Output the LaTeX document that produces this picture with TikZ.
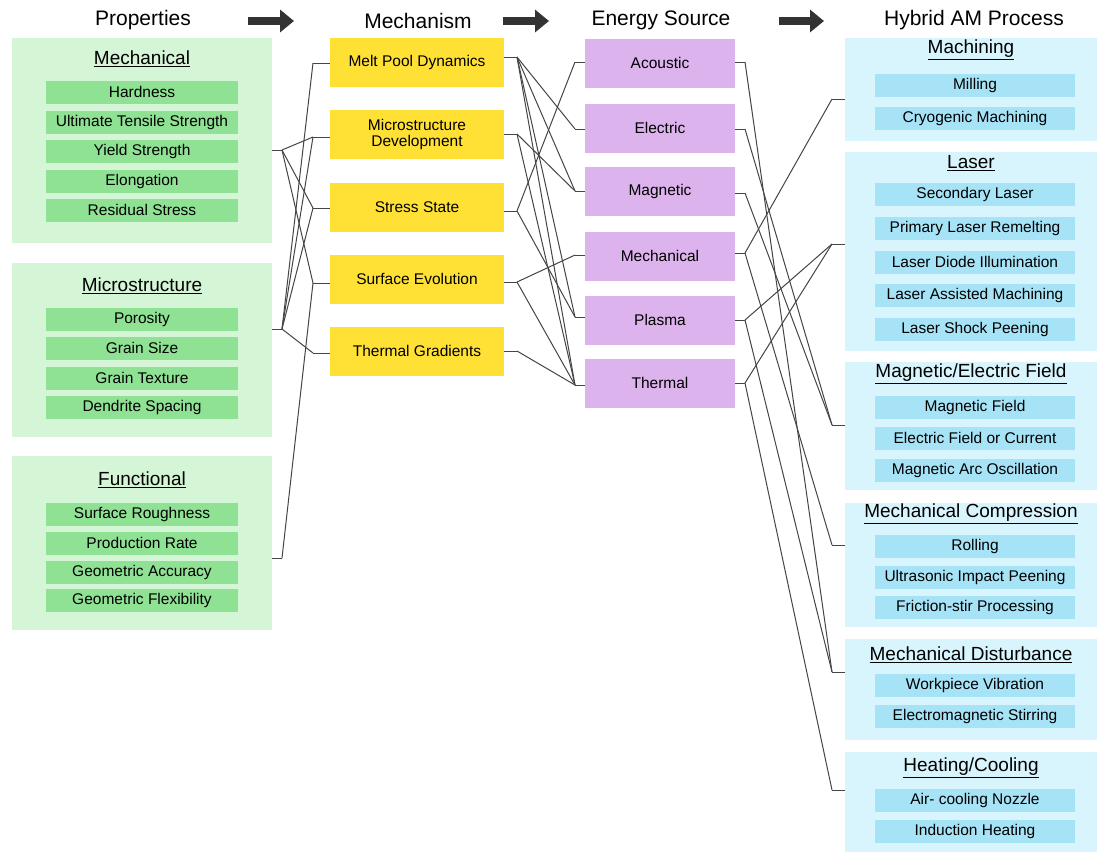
\documentclass[tikz,border=0pt]{standalone}
\usepackage{fontspec}
\setmainfont{Liberation Sans}
\usetikzlibrary{arrows.meta}
\definecolor{pbg}{HTML}{D4F5D6}
\definecolor{pit}{HTML}{8FE194}
\definecolor{mcol}{HTML}{FFE135}
\definecolor{ecol}{HTML}{DDB3EE}
\definecolor{hbg}{HTML}{D8F4FC}
\definecolor{hit}{HTML}{A6E3F7}
\definecolor{lnc}{HTML}{454545}
\definecolor{arc}{HTML}{333333}
\tikzset{
  hdr/.style={font=\fontsize{21}{24}\selectfont, inner sep=0},
  grp/.style={draw=none, inner sep=0},
  pgrp/.style={grp, fill=pbg, minimum width=260pt},
  hgrp/.style={grp, fill=hbg, minimum width=252pt},
  gtitle/.style={font=\fontsize{19}{22}\selectfont, inner sep=0},
  itembox/.style={inner sep=0, minimum height=23pt, font=\fontsize{15.5}{18}\selectfont},
  pitem/.style={itembox, fill=pit, minimum width=192pt},
  hitem/.style={itembox, fill=hit, minimum width=200pt},
  mbox/.style={fill=mcol, inner sep=0, minimum width=174pt, minimum height=49pt, align=center, font=\fontsize{15.5}{18}\selectfont},
  ebox/.style={fill=ecol, inner sep=0, minimum width=150pt, minimum height=49pt, font=\fontsize{15.5}{18}\selectfont},
  conn/.style={draw=lnc, line width=1pt},
  bigarrow/.style={draw=arc, line width=8pt, -{Triangle[length=14pt,width=22pt]}}
}
\begin{document}
\begin{tikzpicture}[x=1pt,y=-1pt]
\useasboundingbox (0,0) rectangle (1098,852);
\fill[white] (0,0) rectangle (1098,852);

% headers
\node[hdr] (hprop) at (143,20) {Properties};
\node[hdr] (hmech) at (418,21) {Mechanism};
\node[hdr] (hener) at (661,20) {Energy Source};
\node[hdr] (hhyb) at (974,20) {Hybrid AM Process};
\coordinate (a1s) at (248,21); \coordinate (a1e) at (294,21);
\coordinate (a2s) at (503,21); \coordinate (a2e) at (549,21);
\coordinate (a3s) at (779,21); \coordinate (a3e) at (824,21);
\draw[bigarrow] (a1s) -- (a1e);
\draw[bigarrow] (a2s) -- (a2e);
\draw[bigarrow] (a3s) -- (a3e);

% properties groups
\node[pgrp, minimum height=205pt] (gmec) at (142,140.5) {};
\node[pgrp, minimum height=174pt] (gmic) at (142,350) {};
\node[pgrp, minimum height=174pt] (gfun) at (142,543) {};
\node[gtitle] (tmec) at (142,59) {\underline{Mechanical}};
\node[gtitle] (tmic) at (142,286) {\underline{Microstructure}};
\node[gtitle] (tfun) at (142,480) {\underline{Functional}};
\foreach \y/\t/\n in {92/Hardness/p1, 122/Ultimate Tensile Strength/p2, 151/Yield Strength/p3, 181/Elongation/p4, 210/Residual Stress/p5,
  319/Porosity/p6, 348/Grain Size/p7, 378/Grain Texture/p8, 407/Dendrite Spacing/p9,
  514/Surface Roughness/p10, 543/Production Rate/p11, 572/Geometric Accuracy/p12, 600/Geometric Flexibility/p13}
  \node[pitem] (\n) at (142,\y) {\t};

% mechanism
\node[mbox] (mmp) at (417,62) {Melt Pool Dynamics};
\node[mbox] (mmd) at (417,134) {Microstructure\\[-2pt]Development};
\node[mbox] (mss) at (417,207) {Stress State};
\node[mbox] (mse) at (417,279) {Surface Evolution};
\node[mbox] (mtg) at (417,351) {Thermal Gradients};

% energy
\node[ebox] (eac) at (660,63) {Acoustic};
\node[ebox] (eel) at (660,128) {Electric};
\node[ebox] (ema) at (660,191) {Magnetic};
\node[ebox] (eme) at (660,256) {Mechanical};
\node[ebox] (epl) at (660,320) {Plasma};
\node[ebox] (eth) at (660,383) {Thermal};

% hybrid groups
\node[hgrp, minimum height=103pt] (hma) at (971,89.5) {};
\node[hgrp, minimum height=199pt] (hla) at (971,251.5) {};
\node[hgrp, minimum height=128pt] (hfi) at (971,426) {};
\node[hgrp, minimum height=124pt] (hco) at (971,565) {};
\node[hgrp, minimum height=101pt] (hdi) at (971,689.5) {};
\node[hgrp, minimum height=100pt] (hhe) at (971,802) {};
\node[gtitle] (tma) at (971,50) {\underline{Machining}};
\node[gtitle] (tla) at (971,163) {\underline{Laser}};
\node[gtitle] (tfi) at (971,374) {\underline{Magnetic/Electric Field}};
\node[gtitle] (tco) at (971,514) {\underline{Mechanical Compression}};
\node[gtitle] (tdi) at (971,655) {\underline{Mechanical Disturbance}};
\node[gtitle] (the) at (971,768) {\underline{Heating/Cooling}};
\foreach \y/\t/\n in {85/Milling/h1, 118/Cryogenic Machining/h2,
  194/Secondary Laser/h3, 228/Primary Laser Remelting/h4, 262/Laser Diode Illumination/h5, 295/Laser Assisted Machining/h6, 329/Laser Shock Peening/h7,
  407/Magnetic Field/h8, 438/Electric Field or Current/h9, 470/Magnetic Arc Oscillation/h10,
  546/Rolling/h11, 577/Ultrasonic Impact Peening/h12, 607/Friction-stir Processing/h13,
  685/Workpiece Vibration/h14, 716/Electromagnetic Stirring/h15,
  800/Air- cooling Nozzle/h16, 831/Induction Heating/h17}
  \node[hitem] (\n) at (975,\y) {\t};

% stub end coordinates
\coordinate (pmR) at (282,150);
\coordinate (piR) at (282,329);
\coordinate (pfR) at (282,558);
\coordinate (mpL) at (313,63);  \coordinate (mpR) at (517,57);
\coordinate (mdL) at (313,137); \coordinate (mdR) at (517,134);
\coordinate (msL) at (313,208); \coordinate (msR) at (517,211);
\coordinate (meL) at (313,283); \coordinate (meR) at (517,282);
\coordinate (mtL) at (313,353); \coordinate (mtR) at (517,351);
\coordinate (eaL) at (575,62);  \coordinate (eaR) at (745,62);
\coordinate (eeL) at (575,129); \coordinate (eeR) at (745,129);
\coordinate (egL) at (575,191); \coordinate (egR) at (745,193);
\coordinate (emL) at (575,255); \coordinate (emR) at (745,253);
\coordinate (epL) at (575,317); \coordinate (epR) at (745,320);
\coordinate (etL) at (575,385); \coordinate (etR) at (745,383);
\coordinate (hmaL) at (832,99);
\coordinate (hlaL) at (832,244);
\coordinate (hfiL) at (832,425);
\coordinate (hcoL) at (832,545);
\coordinate (hdiL) at (832,672);
\coordinate (hheL) at (832,790);

% stubs
\draw[conn] (gmec.east |- pmR) -- (pmR);
\draw[conn] (gmic.east |- piR) -- (piR);
\draw[conn] (gfun.east |- pfR) -- (pfR);
\foreach \n/\l/\r in {mmp/mpL/mpR, mmd/mdL/mdR, mss/msL/msR, mse/meL/meR, mtg/mtL/mtR}{
  \draw[conn] (\n.west |- \l) -- (\l);
  \draw[conn] (\n.east |- \r) -- (\r);
}
\foreach \n/\l/\r in {eac/eaL/eaR, eel/eeL/eeR, ema/egL/egR, eme/emL/emR, epl/epL/epR, eth/etL/etR}{
  \draw[conn] (\n.west |- \l) -- (\l);
  \draw[conn] (\n.east |- \r) -- (\r);
}
\foreach \n/\l in {hma/hmaL, hla/hlaL, hfi/hfiL, hco/hcoL, hdi/hdiL, hhe/hheL}
  \draw[conn] (\n.west |- \l) -- (\l);

% properties -> mechanism
\foreach \a/\b in {pmR/mdL, pmR/msL, pmR/meL, piR/mpL, piR/mdL, piR/msL, piR/mtL, pfR/meL}
  \draw[conn] (\a) -- (\b);
% mechanism -> energy
\foreach \a/\b in {mpR/eeL, mpR/egL, mpR/epL, mpR/etL, mdR/egL, mdR/etL, msR/eaL, msR/epL, meR/emL, meR/etL, mtR/etL}
  \draw[conn] (\a) -- (\b);
% energy -> hybrid
\foreach \a/\b in {eaR/hdiL, eeR/hfiL, egR/hfiL, emR/hmaL, emR/hcoL, epR/hlaL, epR/hdiL, etR/hlaL, etR/hheL}
  \draw[conn] (\a) -- (\b);
\end{tikzpicture}
\end{document}
